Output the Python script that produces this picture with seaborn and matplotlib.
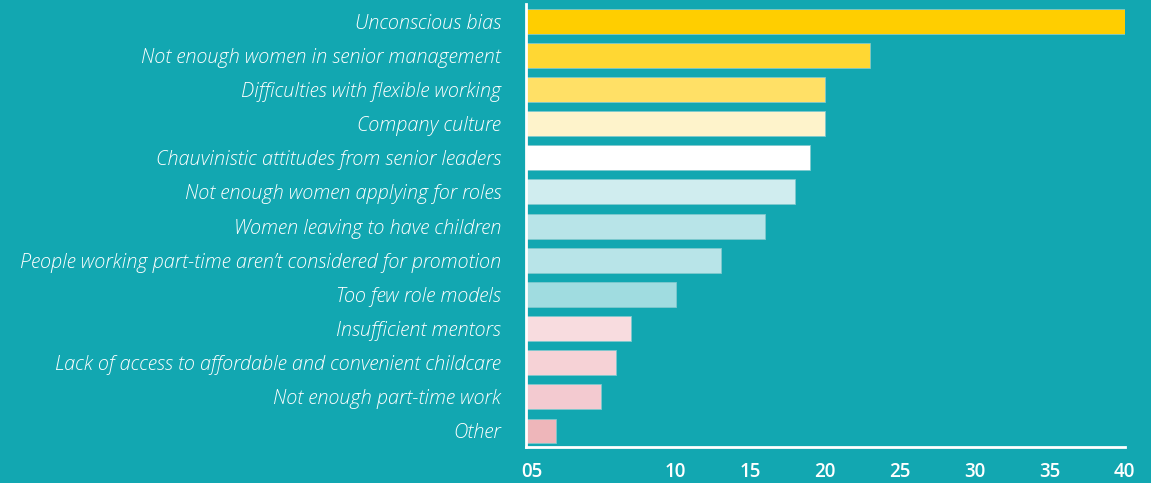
import seaborn as sns
import pandas as pd
import matplotlib.pyplot as plt
import matplotlib.transforms as mtransforms

categories = [
    'Unconscious bias',
    'Not enough women in senior management',
    'Difficulties with flexible working',
    'Company culture',
    'Chauvinistic attitudes from senior leaders',
    'Not enough women applying for roles',
    'Women leaving to have children',
    'People working part-time aren\u2019t considered for promotion',
    'Too few role models',
    'Insufficient mentors',
    'Lack of access to affordable and convenient childcare',
    'Not enough part-time work',
    'Other',
]
values = [40, 23, 20, 20, 19, 18, 16, 13, 10, 7, 6, 5, 2]
bar_colors = ['#FFCE00', '#FFD733', '#FFE066', '#FEF3CB', '#FFFFFF', '#D0EDEF',
              '#B8E4E8', '#B8E4E8', '#A0DCE0', '#F8DCDF', '#F6D2D6', '#F3CAD0', '#EEB6BA']
tick_values = [0, 5, 10, 15, 20, 25, 30, 35, 40]
tick_labels = ['05', '', '10', '15', '20', '25', '30', '35', '40']

bg = '#12A7B1'

sns.set_style('white')
plt.rcParams['font.family'] = ['Open Sans', 'DejaVu Sans']

df = pd.DataFrame({'category': categories, 'value': values})

fig = plt.figure(figsize=(11.51, 4.83), dpi=100, facecolor=bg)
ax = fig.add_axes([0.457, 0.0745, 0.520, 0.917], facecolor=bg)

sns.barplot(data=df, x='value', y='category', hue='category', palette=bar_colors,
            legend=False, width=0.73, saturation=1, edgecolor='#7FC9CE', linewidth=0.6, ax=ax)

ax.set_xlim(0, 40)
ax.set_ylim(12.47, -0.5)
ax.set_xlabel('')
ax.set_ylabel('')

for s in ['top', 'right']:
    ax.spines[s].set_visible(False)
for s in ['left', 'bottom']:
    ax.spines[s].set_color('white')
    ax.spines[s].set_linewidth(2)

ax.set_xticks(tick_values)
ax.set_xticklabels(tick_labels, fontsize=13.5, color='white', fontweight='semibold')
ax.tick_params(axis='x', direction='in', length=6, width=1.6, color='white', pad=11)
ax.tick_params(axis='y', length=0, pad=18)
for lab in ax.get_yticklabels():
    lab.set_fontsize(14.3)
    lab.set_color('white')
    lab.set_fontstyle('italic')
    lab.set_fontweight('light')

first = ax.get_xticklabels()[0]
first.set_transform(first.get_transform() + mtransforms.ScaledTranslation(6 / 100, 0, fig.dpi_scale_trans))

fig.savefig('out.png', dpi=100, facecolor=bg)
